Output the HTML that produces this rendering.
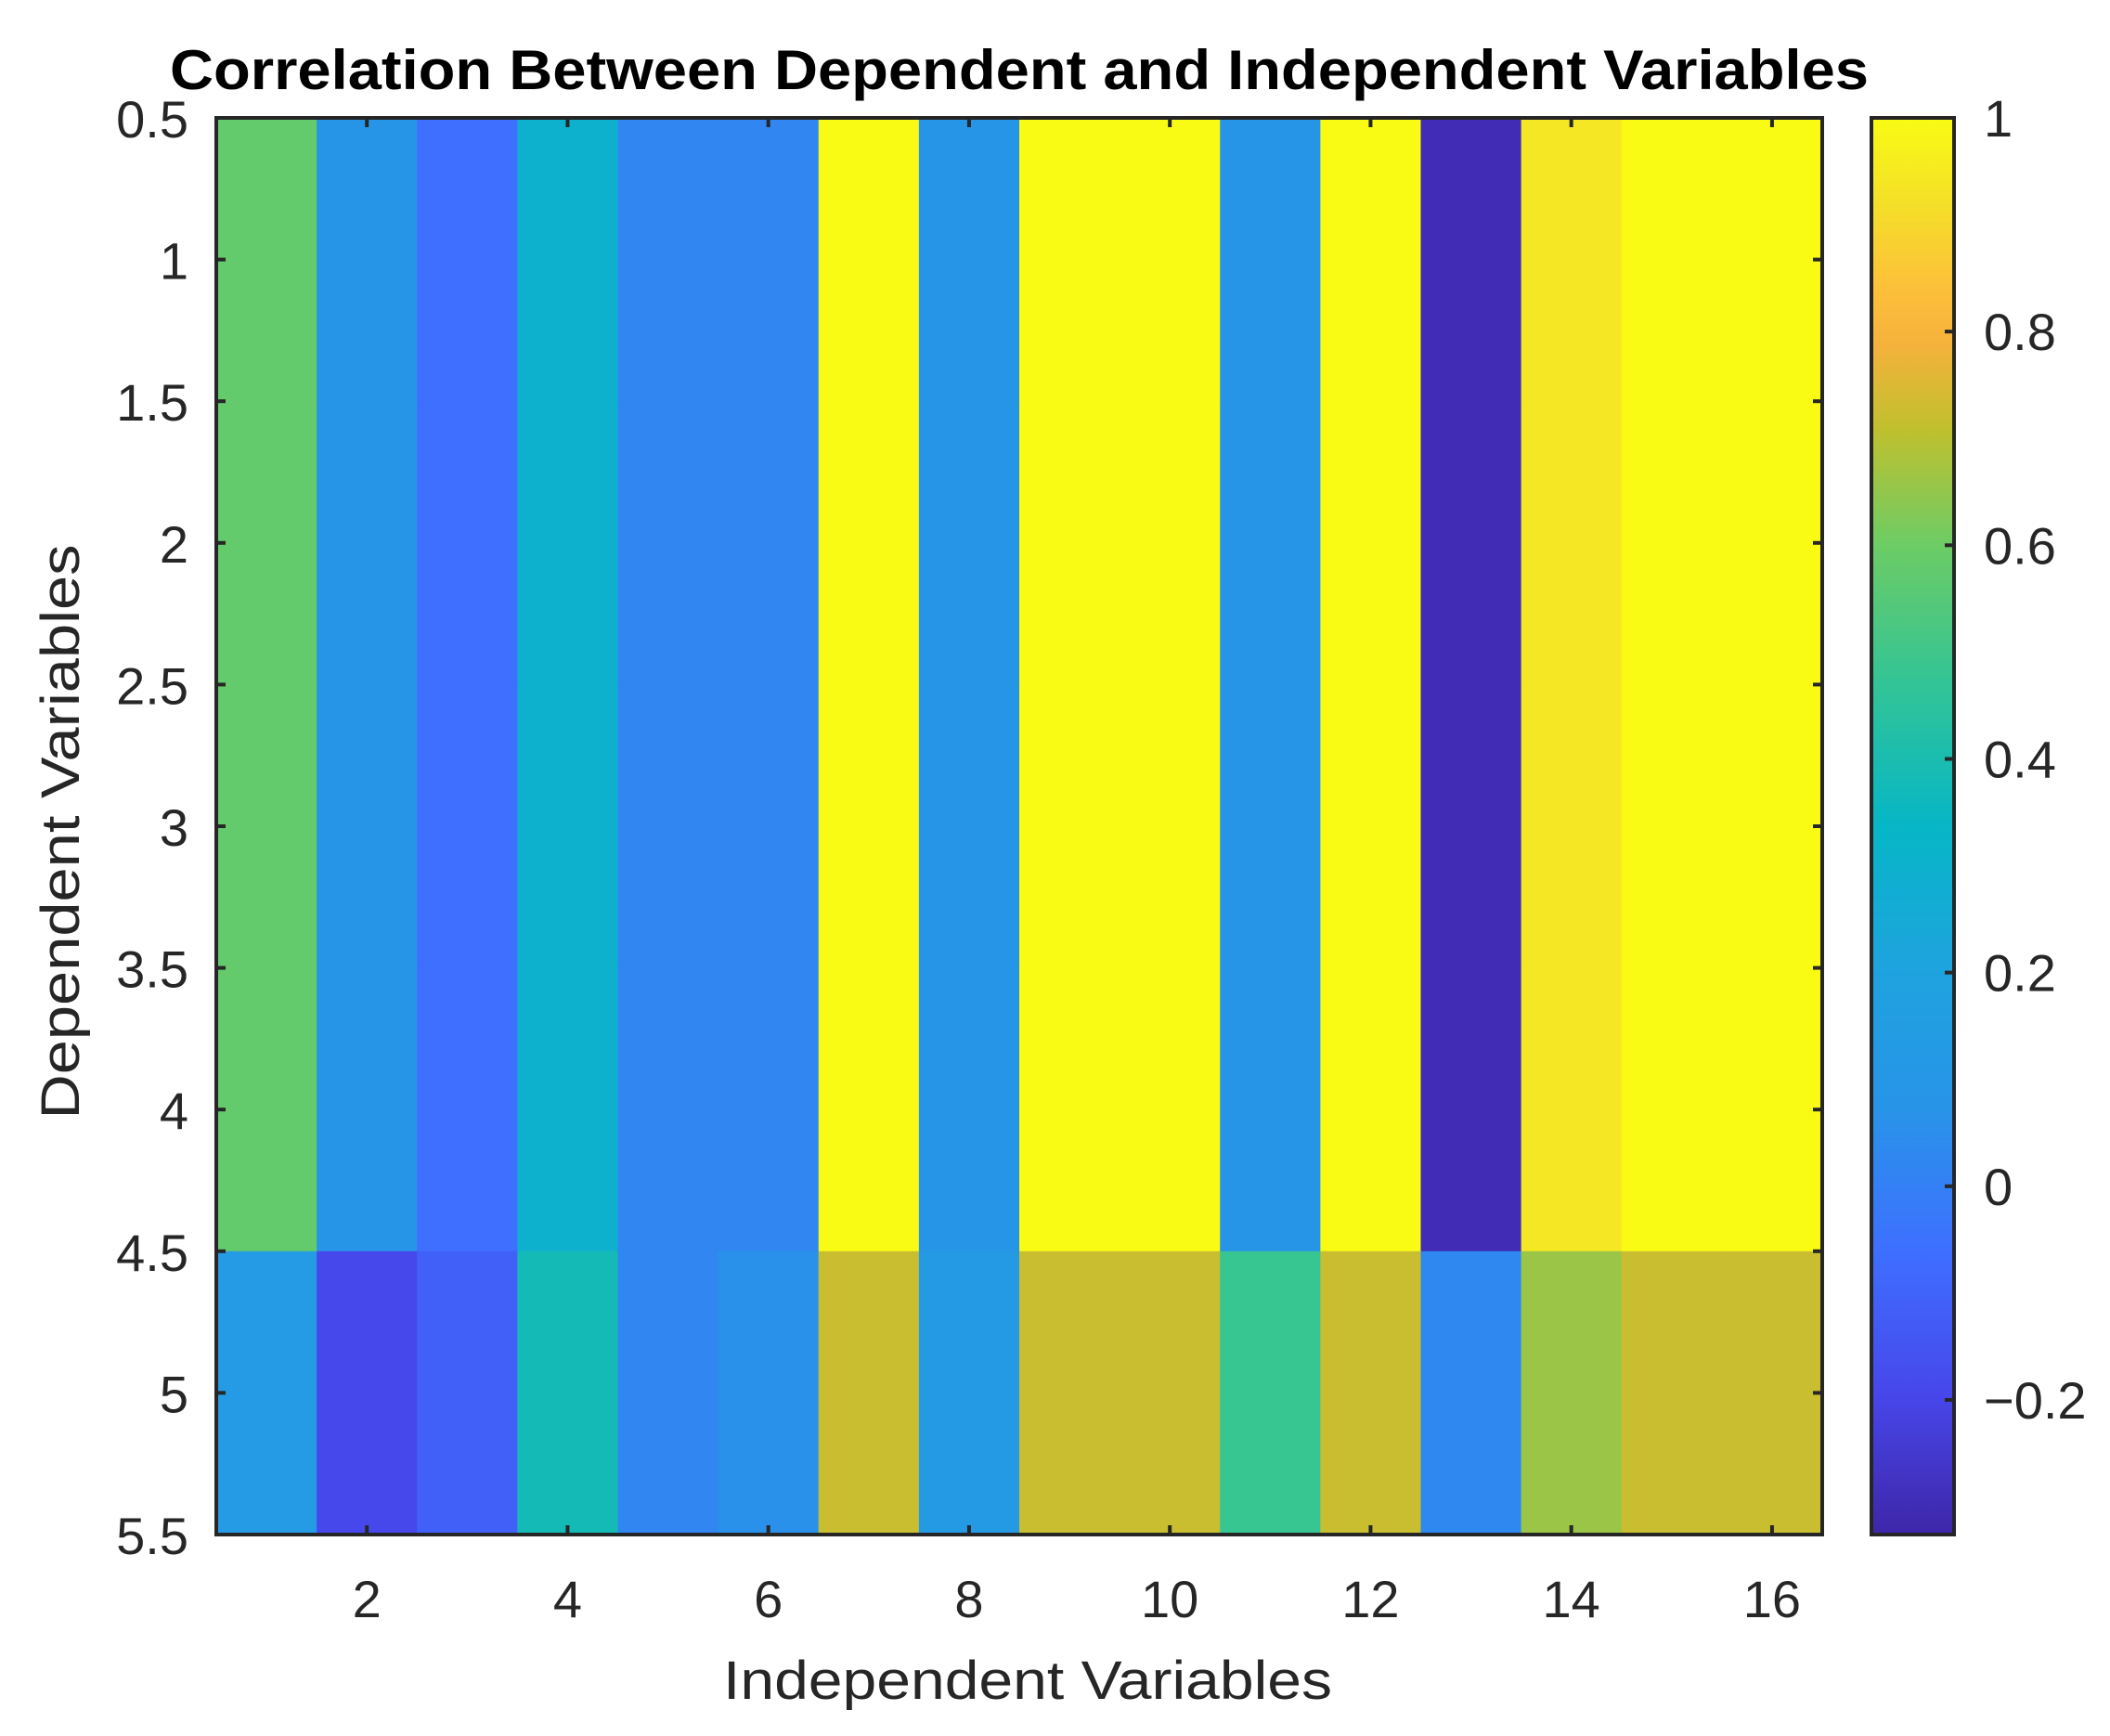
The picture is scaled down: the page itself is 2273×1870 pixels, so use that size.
<!DOCTYPE html>
<html><head><meta charset="utf-8"><style>
html,body{margin:0;padding:0;background:#fff;}
svg{display:block;font-family:"Liberation Sans",Arial,sans-serif;}
</style></head><body>
<svg id="chart" width="2273" height="1870" viewBox="0 0 2273 1870" xmlns="http://www.w3.org/2000/svg">
<rect width="2273" height="1870" fill="#fff"/>
<text x="1098" y="96" text-anchor="middle" font-size="60" font-weight="bold" fill="#000" textLength="1830" lengthAdjust="spacingAndGlyphs">Correlation Between Dependent and Independent Variables</text>
<g id="cells"></g>
<g id="axes"></g>
<text x="1107" y="1830" text-anchor="middle" font-size="58" fill="#262626" textLength="656" lengthAdjust="spacingAndGlyphs">Independent Variables</text>
<text transform="translate(85,896) rotate(-90)" text-anchor="middle" font-size="58" fill="#262626" textLength="619" lengthAdjust="spacingAndGlyphs">Dependent Variables</text>
</svg>
<script>
const columns = [1,2,3,4,5,6,7,8,9,10,11,12,13,14,15,16];
const rows = [1,2,3,4,5];
const topRowValues = [0.58,0.08,-0.06,0.30,0.02,0.02,1.0,0.08,1.0,1.0,0.08,1.0,-0.30,0.94,1.0,1.0];
const bottomRowValues = [0.13,-0.19,-0.11,0.38,0.02,0.06,0.72,0.12,0.72,0.72,0.48,0.72,0.03,0.66,0.72,0.72];
const rowData = [topRowValues, topRowValues, topRowValues, topRowValues, bottomRowValues];
const yTicks = [0.5,1,1.5,2,2.5,3,3.5,4,4.5,5,5.5];
const xTicks = [2,4,6,8,10,12,14,16];
const cbTicks = [-0.2,0,0.2,0.4,0.6,0.8,1];
const cbTickLabels = ["\u22120.2","0","0.2","0.4","0.6","0.8","1"];
const cMin = -0.326, cMax = 1.0;

const NS = "http://www.w3.org/2000/svg";
const L = 233, R = 1963, T = 127, B = 1653;
const CBL = 2016, CBR = 2105;
const xScale = v => L + (v - 0.5) / 16 * (R - L);
const yScale = v => T + (v - 0.5) / 5 * (B - T);
const cScale = v => B - (v - cMin) / (cMax - cMin) * (B - T);
const parula = [[0,62,38,168],[0.1,71,71,235],[0.2,62,111,255],[0.3,40,148,232],[0.4,30,163,222],[0.5,6,182,198],[0.6,50,196,150],[0.7,110,204,100],[0.78,192,192,46],[0.84,245,178,60],[0.88,253,192,58],[0.94,244,224,40],[1,249,251,20]];
function color(v){
  let t = Math.max(0, Math.min(1, (v - cMin) / (cMax - cMin)));
  for (let i = 1; i < parula.length; i++){
    if (t <= parula[i][0]){
      const a = parula[i-1], b = parula[i], f = (t - a[0]) / (b[0] - a[0]);
      return `rgb(${Math.round(a[1]+f*(b[1]-a[1]))},${Math.round(a[2]+f*(b[2]-a[2]))},${Math.round(a[3]+f*(b[3]-a[3]))})`;
    }
  }
  return "rgb(249,251,20)";
}
function mk(tag, attrs, parent){
  const e = document.createElementNS(NS, tag);
  for (const k in attrs) e.setAttribute(k, attrs[k]);
  parent.appendChild(e);
  return e;
}
const cells = document.getElementById('cells');
rows.forEach((r, ri) => {
  columns.forEach((c, ci) => {
    const x0 = xScale(c - 0.5), x1 = xScale(c + 0.5), y0 = yScale(r - 0.5), y1 = yScale(r + 0.5);
    const e = mk('rect', {x: x0, y: y0, width: x1 - x0 + 0.6, height: y1 - y0 + 0.6, fill: color(rowData[ri][ci])}, cells);
    
    
  });
});
const axes = document.getElementById('axes');
const ink = "#262626";
const defs = mk('defs', {}, axes);
const grad = mk('linearGradient', {id: 'cbgrad', x1: 0, y1: 1, x2: 0, y2: 0}, defs);
parula.forEach(p => mk('stop', {offset: p[0], 'stop-color': `rgb(${p[1]},${p[2]},${p[3]})`}, grad));
const cb = mk('rect', {x: CBL, y: T, width: CBR - CBL, height: B - T, fill: 'url(#cbgrad)', stroke: ink, 'stroke-width': 4}, axes);


const frame = mk('rect', {x: L, y: T, width: R - L, height: B - T, fill: 'none', stroke: ink, 'stroke-width': 4}, axes);


yTicks.forEach(v => {
  const y = yScale(v);
  mk('line', {x1: L, x2: L + 10, y1: y, y2: y, stroke: ink, 'stroke-width': 4}, axes);
  mk('line', {x1: R - 10, x2: R, y1: y, y2: y, stroke: ink, 'stroke-width': 4}, axes);
  const t = mk('text', {x: 203, y: y + 21, 'text-anchor': 'end', 'font-size': 56, fill: ink}, axes);
  t.textContent = String(v);
  
  
});
xTicks.forEach(v => {
  const x = xScale(v);
  mk('line', {x1: x, x2: x, y1: B, y2: B - 10, stroke: ink, 'stroke-width': 4}, axes);
  mk('line', {x1: x, x2: x, y1: T, y2: T + 10, stroke: ink, 'stroke-width': 4}, axes);
  const t = mk('text', {x: x, y: 1742, 'text-anchor': 'middle', 'font-size': 56, fill: ink}, axes);
  t.textContent = String(v);
  
  
});
cbTicks.forEach((v, i) => {
  const y = cScale(v);
  mk('line', {x1: CBR - 10, x2: CBR, y1: y, y2: y, stroke: ink, 'stroke-width': 4}, axes);
  const t = mk('text', {x: 2137, y: y + 20, 'font-size': 56, fill: ink}, axes);
  t.textContent = cbTickLabels[i];
  
  
});
</script>
</body></html>
